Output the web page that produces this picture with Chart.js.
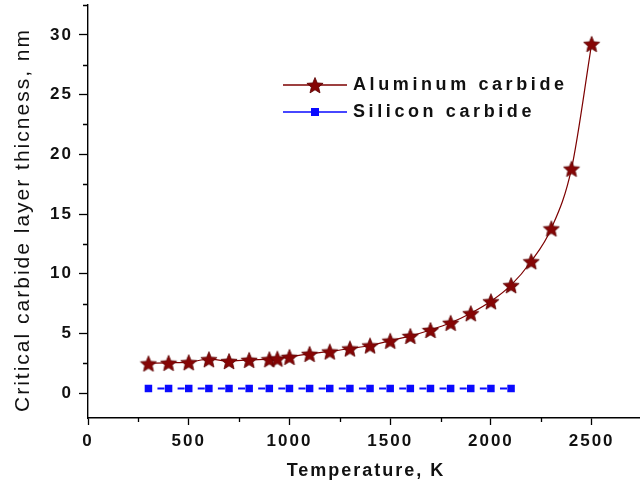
<!DOCTYPE html>
<html>
<head>
<meta charset="utf-8">
<script src="https://cdn.jsdelivr.net/npm/chart.js@4/dist/chart.umd.min.js"></script>
<style>
  html, body { margin: 0; padding: 0; background: #fff; }
  #cadre { width: 640px; height: 487px; position: relative; }
</style>
</head>
<body>
<div id="cadre"><canvas id="graphique-carbure"></canvas></div>
<script>
// Données : température (K) et épaisseur critique (nm)
const temperaturesAl = [300, 400, 500, 600, 700, 800, 900, 940, 1000, 1100, 1200, 1300, 1400, 1500, 1600, 1700, 1800, 1900, 2000, 2100, 2200, 2300, 2400, 2500];
const epaisseursAl = [2.5, 2.55, 2.6, 2.85, 2.7, 2.8, 2.85, 2.9, 3.05, 3.3, 3.5, 3.75, 4.0, 4.4, 4.8, 5.3, 5.9, 6.7, 7.7, 9.05, 11.05, 13.8, 18.8, 29.25];
const temperaturesSi = [300, 400, 500, 600, 700, 800, 900, 1000, 1100, 1200, 1300, 1400, 1500, 1600, 1700, 1800, 1900, 2000, 2100];
const epaisseursSi = [0.4, 0.4, 0.4, 0.4, 0.4, 0.4, 0.4, 0.4, 0.4, 0.4, 0.4, 0.4, 0.4, 0.4, 0.4, 0.4, 0.4, 0.4, 0.4];
const nomsSeries = ["Aluminum carbide", "Silicon carbide"];
const titreX = "Temperature, K";
const titreY = "Critical carbide layer thicness, nm";

// Graduations
const xGraduations = [0, 500, 1000, 1500, 2000, 2500];
const xGraduationsMineures = [250, 750, 1250, 1750, 2250];
const yGraduations = [0, 5, 10, 15, 20, 25, 30];
const yGraduationsMineures = [2.5, 7.5, 12.5, 17.5, 22.5, 27.5, 32.5];

const rougeFonce = "#7d0000";
const bleu = "#0a0aff";

// Étoile pleine à 5 branches pour les points
function creerEtoile(taille, couleur) {
    const c = document.createElement("canvas");
    c.width = taille;
    c.height = taille;
    const ctx = c.getContext("2d");
    const r = taille / 2 - 0.5;
    const ri = r * 0.45;
    ctx.beginPath();
    for (let i = 0; i < 10; i++) {
        const rayon = i % 2 === 0 ? r : ri;
        const angle = -Math.PI / 2 + i * Math.PI / 5;
        const px = taille / 2 + rayon * Math.cos(angle);
        const py = taille / 2 + 1 + rayon * Math.sin(angle);
        if (i === 0) ctx.moveTo(px, py); else ctx.lineTo(px, py);
    }
    ctx.closePath();
    ctx.fillStyle = couleur;
    ctx.fill();
    ctx.strokeStyle = "#5a0000";
    ctx.lineWidth = 0.8;
    ctx.stroke();
    return c;
}
const etoile = creerEtoile(18, "#850505");

// Graduations mineures, légende et titres des axes
const pluginDecor = {
    id: "decor",
    beforeDraw(chart) {
        chart.ctx.letterSpacing = "2px";
    },
    afterDraw(chart) {
        const ctx = chart.ctx;
        const sx = chart.scales.x;
        const sy = chart.scales.y;
        ctx.save();
        ctx.strokeStyle = "#000";
        ctx.lineWidth = 1.3;
        ctx.beginPath();
        xGraduationsMineures.forEach(v => {
            const px = Math.round(sx.getPixelForValue(v)) + 0.5;
            ctx.moveTo(px, sy.bottom);
            ctx.lineTo(px, sy.bottom + 4);
        });
        yGraduationsMineures.forEach(v => {
            const py = Math.round(sy.getPixelForValue(v)) + 0.5;
            ctx.moveTo(sx.left, py);
            ctx.lineTo(sx.left - 5, py);
        });
        ctx.stroke();

        // Légende
        const lx = 283, ly = 85, pas = 27;
        ctx.font = "bold 18px 'Liberation Sans', Arial, sans-serif";
        ctx.textBaseline = "middle";
        ctx.letterSpacing = "3.6px";
        ctx.fillStyle = "#111";
        // Aluminium
        ctx.strokeStyle = rougeFonce;
        ctx.lineWidth = 1.3;
        ctx.beginPath();
        ctx.moveTo(lx, ly);
        ctx.lineTo(lx + 64, ly);
        ctx.stroke();
        ctx.drawImage(etoile, lx + 32 - etoile.width / 2, ly - etoile.height / 2);
        ctx.fillText(nomsSeries[0], lx + 70, ly);
        // Silicium
        ctx.strokeStyle = bleu;
        ctx.beginPath();
        ctx.moveTo(lx, ly + pas);
        ctx.lineTo(lx + 64, ly + pas);
        ctx.stroke();
        ctx.fillStyle = bleu;
        ctx.fillRect(lx + 28, ly + pas - 4, 8, 8);
        ctx.fillStyle = "#111";
        ctx.fillText(nomsSeries[1], lx + 70, ly + pas);

        // Titre de l'axe x
        ctx.letterSpacing = "2px";
        ctx.textAlign = "center";
        ctx.font = "bold 18px 'Liberation Sans', Arial, sans-serif";
        ctx.fillText(titreX, (sx.left + sx.right) / 2 + 2, 471);

        // Titre de l'axe y
        ctx.save();
        ctx.translate(23, 220);
        ctx.rotate(-Math.PI / 2);
        ctx.font = "21px 'Liberation Sans', Arial, sans-serif";
        ctx.fillText(titreY, 0, 0);
        ctx.restore();
        ctx.restore();
    }
};

const config = {
    type: "line",
    data: {
        datasets: [{
            label: nomsSeries[0],
            data: temperaturesAl.map((t, i) => ({ x: t, y: epaisseursAl[i] })),
            borderColor: rougeFonce,
            borderWidth: 1.2,
            cubicInterpolationMode: "monotone",
            pointStyle: etoile,
            pointRadius: 8,
        }, {
            label: nomsSeries[1],
            data: temperaturesSi.map((t, i) => ({ x: t, y: epaisseursSi[i] })),
            borderColor: bleu,
            borderWidth: 2,
            borderDash: [7, 13.15],
            borderDashOffset: 11.15,
            backgroundColor: bleu,
            pointStyle: "rect",
            pointRadius: 5.3,
            pointBorderWidth: 0,
        }]
    },
    options: {
        responsive: true,
        maintainAspectRatio: false,
        animation: false,
        layout: { autoPadding: false, padding: { top: 5, right: 0, left: 0, bottom: 0 } },
        plugins: {
            legend: { display: false },
            tooltip: { enabled: false }
        },
        scales: {
            x: {
                type: "linear",
                min: 0,
                max: 2740,
                afterBuildTicks: s => { s.ticks = xGraduations.map(v => ({ value: v })); },
                afterFit: s => {
                    s.height = 69;
                    s.paddingLeft = 0;
                    s.paddingRight = 0;
                },
                border: { display: true, color: "#000", width: 1.4 },
                grid: { drawOnChartArea: false, drawTicks: true, tickLength: 7, color: "#000", tickWidth: 1.3 },
                ticks: {
                    autoSkip: false,
                    maxRotation: 0,
                    padding: 6,
                    color: "#111",
                    callback: v => String(v),
                    font: { family: "'Liberation Sans', Arial, sans-serif", size: 17, weight: "bold" }
                },
                title: { display: false }
            },
            y: {
                type: "linear",
                min: -2.07,
                max: 32.5,
                afterBuildTicks: s => { s.ticks = yGraduations.map(v => ({ value: v })); },
                afterFit: s => {
                    s.width = 88;
                    s.paddingTop = 0;
                    s.paddingBottom = 0;
                },
                border: { display: true, color: "#000", width: 1.4 },
                grid: { drawOnChartArea: false, drawTicks: true, tickLength: 9, color: "#000", tickWidth: 1.3 },
                ticks: {
                    autoSkip: false,
                    padding: 6,
                    color: "#111",
                    callback: v => String(v),
                    font: { family: "'Liberation Sans', Arial, sans-serif", size: 17, weight: "bold" }
                },
                title: { display: false }
            }
        }
    },
    plugins: [pluginDecor]
};

const graphique = new Chart(document.querySelector("#graphique-carbure"), config);
</script>
</body>
</html>
